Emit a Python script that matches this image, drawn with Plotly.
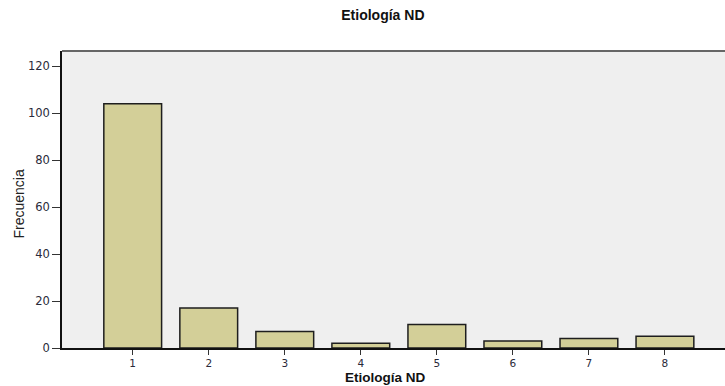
import plotly.graph_objects as go

categories = [1, 2, 3, 4, 5, 6, 7, 8]
frecuencia = [104, 17, 7, 2, 10, 3, 4, 5]
y_ticks = [0, 20, 40, 60, 80, 100, 120]

fig = go.Figure(go.Bar(
    x=categories, y=frecuencia, width=0.76,
    marker=dict(color="#d3cf98", line=dict(color="#1e1e1e", width=1.5)),
))

y_tick_font = dict(size=11.5, color="#2a2a3a", family="DejaVu Sans, Liberation Sans, sans-serif")
x_tick_font = dict(size=10.5, color="#2a2a3a", family="DejaVu Sans, Liberation Sans, sans-serif")

fig.update_layout(
    width=725, height=386,
    margin=dict(l=62, r=0, t=51, b=38),
    paper_bgcolor="white", plot_bgcolor="#efefef",
    showlegend=False,
    font=dict(family="Liberation Sans, Arial, sans-serif", color="#333"),
    title=dict(text="<b>Etiología ND</b>", x=0.484, xanchor="center", xref="paper",
               y=1 - 15 / 386, yref="container", yanchor="middle",
               font=dict(size=14, color="#111")),
    xaxis=dict(range=[0.07, 8.79], tickmode="array", tickvals=categories,
               ticktext=[str(c) for c in categories],
               showline=True, linecolor="#111", linewidth=1.5,
               ticks="outside", ticklen=5, tickcolor="#333", tickwidth=1.2,
               tickfont=x_tick_font, showgrid=False, zeroline=False),
    yaxis=dict(range=[0, 126.4], tickmode="array", tickvals=y_ticks,
               showline=True, linecolor="#111", linewidth=1.5,
               ticks="outside", ticklen=8, tickcolor="#333", tickwidth=1.2,
               tickfont=y_tick_font, showgrid=False, zeroline=False),
    annotations=[
        dict(text="<b>Etiología ND</b>", xref="paper", yref="paper", x=0.487, y=0,
             yshift=-29.5, xanchor="center", yanchor="middle", showarrow=False,
             font=dict(size=13.5, color="#111")),
        dict(text="Frecuencia", xref="paper", yref="paper", x=0, xshift=-44, y=0.5,
             yshift=-5, textangle=-90, xanchor="center", yanchor="middle", showarrow=False,
             font=dict(size=14, color="#222", family="Liberation Sans, Arial, sans-serif")),
    ],
    shapes=[dict(type="line", xref="paper", yref="paper", x0=0, x1=1, y0=1, y1=1,
                 line=dict(color="#666", width=2))],
)

fig.write_html(
    "out.html",
    config={"displayModeBar": False},
    post_script="document.body.style.margin='0';document.body.style.overflow='hidden';",
)
